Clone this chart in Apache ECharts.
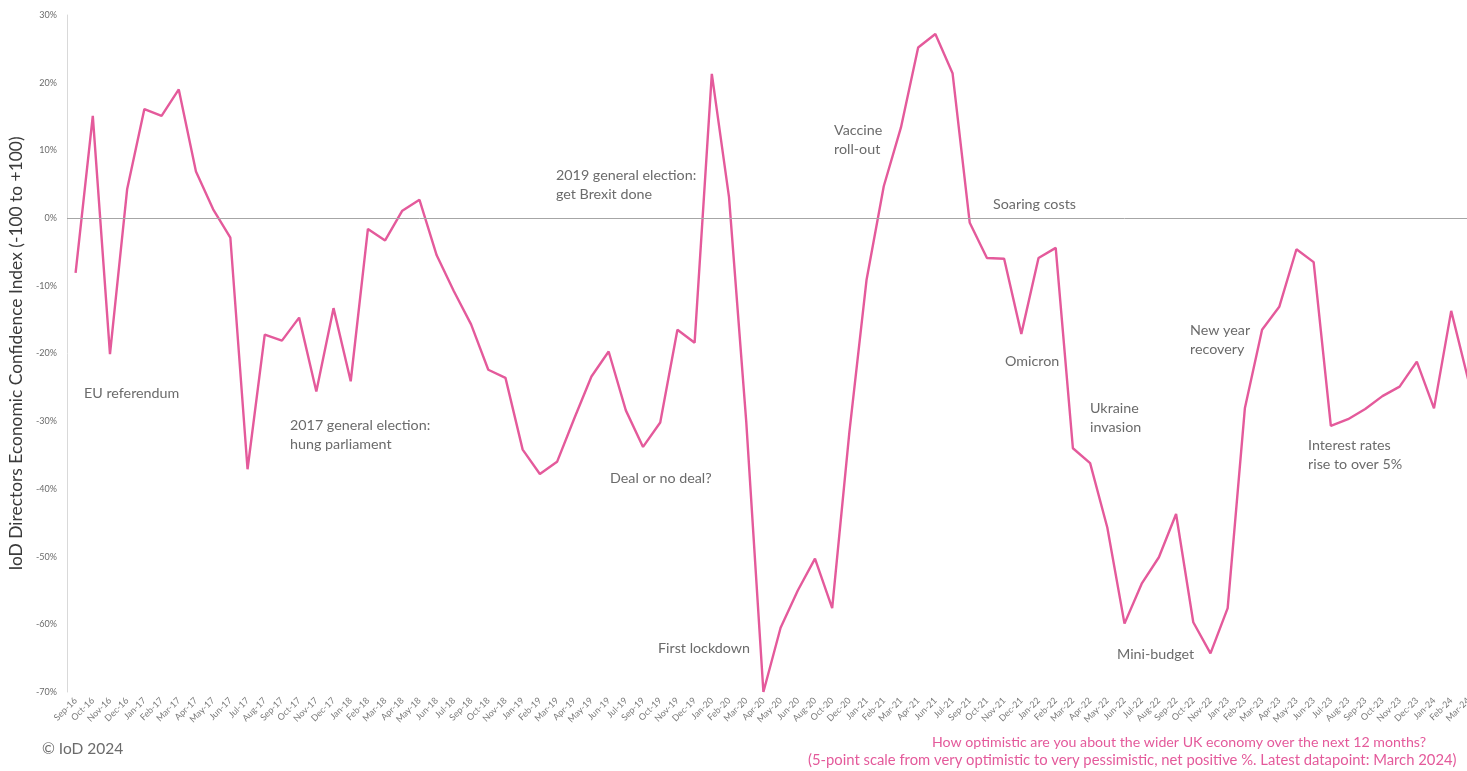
<!DOCTYPE html>
<html>
<head>
<meta charset="utf-8">
<script src="https://cdn.jsdelivr.net/npm/echarts@6/dist/echarts.min.js"></script>
<style>
html,body{margin:0;padding:0;background:#fff;overflow:hidden;width:1467px;height:771px;}
#chart{width:1477px;height:771px;}
</style>
</head>
<body>
<div id="chart"></div>
<script>
var months = ["Sep-16","Oct-16","Nov-16","Dec-16","Jan-17","Feb-17","Mar-17","Apr-17","May-17","Jun-17",
"Jul-17","Aug-17","Sep-17","Oct-17","Nov-17","Dec-17","Jan-18","Feb-18","Mar-18","Apr-18",
"May-18","Jun-18","Jul-18","Sep-18","Oct-18","Nov-18","Jan-19","Feb-19","Mar-19","Apr-19",
"May-19","Jun-19","Jul-19","Sep-19","Oct-19","Nov-19","Dec-19","Jan-20","Feb-20","Mar-20",
"Apr-20","May-20","Jun-20","Aug-20","Oct-20","Dec-20","Jan-21","Feb-21","Mar-21","Apr-21",
"Jun-21","Jul-21","Sep-21","Oct-21","Nov-21","Dec-21","Jan-22","Feb-22","Mar-22","Apr-22",
"May-22","Jun-22","Jul-22","Aug-22","Sep-22","Oct-22","Nov-22","Jan-23","Feb-23","Mar-23",
"Apr-23","May-23","Jun-23","Jul-23","Aug-23","Sep-23","Oct-23","Nov-23","Dec-23","Jan-24",
"Feb-24","Mar-24"];

var confidence = [-8.1,15.1,-20.1,4.3,16.1,15.1,19.0,6.9,1.3,-2.9,
-37.1,-17.2,-18.1,-14.7,-25.6,-13.3,-24.1,-1.6,-3.3,1.1,
2.7,-5.5,-10.8,-15.7,-22.4,-23.6,-34.2,-37.8,-36.0,-29.6,
-23.4,-19.7,-28.4,-33.8,-30.2,-16.5,-18.4,21.3,3.1,-30.0,
-70.0,-60.5,-55.0,-50.3,-57.6,-31.6,-9.1,4.7,13.4,25.2,
27.2,21.4,-0.7,-5.9,-6.0,-17.1,-5.9,-4.4,-34.0,-36.2,
-45.7,-59.9,-54.0,-50.1,-43.7,-59.7,-64.3,-57.6,-28.1,-16.5,
-13.1,-4.6,-6.5,-30.7,-29.7,-28.2,-26.3,-24.9,-21.2,-28.1,
-13.7,-24.0];

var yTicks = {min:-70, max:30, interval:10};

var annotations = [
  {text:"EU referendum", x:84, y:393},
  {text:"2017 general election:\nhung parliament", x:290, y:425},
  {text:"2019 general election:\nget Brexit done", x:556, y:175},
  {text:"Deal or no deal?", x:610, y:478},
  {text:"First lockdown", x:658, y:648},
  {text:"Vaccine\nroll-out", x:834, y:130},
  {text:"Soaring costs", x:993, y:204},
  {text:"Omicron", x:1005, y:361},
  {text:"Ukraine\ninvasion", x:1090, y:408},
  {text:"Mini-budget", x:1117, y:654},
  {text:"New year\nrecovery", x:1190, y:330},
  {text:"Interest rates\nrise to over 5%", x:1308, y:445}
];

var pink = "#e45a9b";
var grey = "#6b6b6b";
var font = "Lato, 'Open Sans', sans-serif";
var LH = 19.5;

var graphics = annotations.map(function(a){
  return {type:'text', left:a.x, top:a.y - LH/2, z:10,
    style:{text:a.text, fill:grey, font:"14.3px " + font, lineHeight:LH}};
});
graphics.push({type:'text', left:42, top:749 - 9, style:{text:"\u00A9 IoD 2024", fill:grey, font:"15.5px " + font, lineHeight:18}});
graphics.push({type:'text', left:932, top:742 - 9, style:{text:"How optimistic are you about the wider UK economy over the next 12 months?", fill:pink, font:"14.2px " + font, lineHeight:18}});
graphics.push({type:'text', left:808, top:760 - 9, style:{text:"(5-point scale from very optimistic to very pessimistic, net positive %. Latest datapoint: March 2024)", fill:pink, font:"14.8px " + font, lineHeight:18}});

var chart = echarts.init(document.getElementById('chart'));
chart.setOption({
  animation:false,
  backgroundColor:'#ffffff',
  grid:{left:67, top:15, right:0, height:677, containLabel:false},
  xAxis:{
    type:'category', data:months, boundaryGap:true,
    axisLine:{show:false, onZero:false},
    axisTick:{show:false},
    axisLabel:{interval:0, rotate:45, fontSize:9, color:'#7a7a7a', margin:7, fontFamily:font}
  },
  yAxis:{
    type:'value', min:yTicks.min, max:yTicks.max, interval:yTicks.interval,
    name:'IoD Directors Economic Confidence Index (-100 to +100)',
    nameLocation:'middle', nameGap:40, nameRotate:90,
    nameTextStyle:{fontSize:17.4, color:'#3a3a3a', fontFamily:font},
    axisLine:{show:true, lineStyle:{color:'#d9d9d9', width:1}},
    axisTick:{show:false},
    splitLine:{show:false},
    axisLabel:{formatter:'{value}%', fontSize:9, color:'#6b6b6b', margin:10, fontFamily:font}
  },
  series:[{
    type:'line', data:confidence, symbol:'none', smooth:false,
    lineStyle:{color:pink, width:2.4},
    itemStyle:{color:pink},
    markLine:{silent:true, symbol:['none','none'], label:{show:false},
      lineStyle:{color:'#a6a6a6', width:1, type:'solid'},
      data:[{yAxis:0}]}
  }],
  graphic:graphics
});
</script>
</body>
</html>
